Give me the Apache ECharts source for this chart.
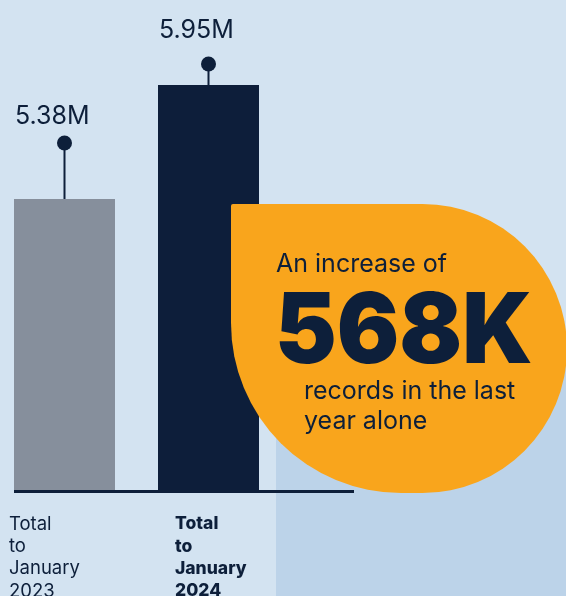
<!DOCTYPE html>
<html>
<head>
<meta charset="utf-8">
<script src="https://cdn.jsdelivr.net/npm/echarts@6/dist/echarts.min.js"></script>
<style>
html,body{margin:0;padding:0;background:#d3e3f1;}
#c{width:566px;height:596px;}
</style>
</head>
<body>
<div id="c"></div>
<script>
// ---- data ----
const categories = ['Total to January 2023', 'Total to January 2024'];
const recordsMillions = [5.38, 5.95];
const valueLabels = ['5.38M', '5.95M'];
const increaseLabel = '568K';
const calloutLines = ['An increase of', 'records in the last', 'year alone'];

// ---- styles ----
const NAVY = '#0d1f3a';
const barColors = ['#868f9c', '#0d1e3a'];
const stemLength = [56, 21];
const labelRise = [82.5, 55];
const labelWeights = [400, 800];
const labelSizes = [18.5, 17.5];
const FONT = 'Inter, "Noto Sans", sans-serif';

const chart = echarts.init(document.getElementById('c'), null, {renderer: 'canvas'});

const option = {
  backgroundColor: '#d3e3f1',
  animation: false,
  grid: [
    {left: -7.5, right: 285.5, top: 0, bottom: 106, outerBoundsMode: 'none', containLabel: false},
    {left: 9, right: 391, top: 0, bottom: 106, outerBoundsMode: 'none', containLabel: false}
  ],
  xAxis: [
    {type: 'category', gridIndex: 0, data: categories, boundaryGap: true, show: false},
    {
      type: 'category', gridIndex: 1, boundaryGap: false,
      data: categories.map((c, i) => ({value: c, textStyle: {fontWeight: labelWeights[i], fontSize: labelSizes[i], align: 'left'}})),
      axisLine: {show: false}, axisTick: {show: false},
      axisLabel: {
        align: 'left', verticalAlign: 'top', margin: 23,
        fontFamily: FONT, fontSize: 18.5, lineHeight: 22.3, color: NAVY,
        formatter: v => v.split(' ').join('\n')
      }
    }
  ],
  yAxis: [
    {type: 'value', gridIndex: 0, min: 3.925, max: 6.375, show: false, splitLine: {show: false}},
    {type: 'value', gridIndex: 1, show: false, splitLine: {show: false}}
  ],
  series: [
    {
      type: 'bar', xAxisIndex: 0, yAxisIndex: 0, barWidth: 101, clip: true,
      data: recordsMillions.map((v, i) => ({value: v, itemStyle: {color: barColors[i]}})),
      z: 2
    },
    {
      type: 'custom', xAxisIndex: 0, yAxisIndex: 0, clip: false, z: 3,
      data: recordsMillions.map((v, i) => [i, v]),
      renderItem: function (params, api) {
        const i = params.dataIndex;
        const p = api.coord([api.value(0), api.value(1)]);
        const dotY = p[1] - stemLength[i];
        return {
          type: 'group',
          children: [
            {type: 'line', shape: {x1: p[0], y1: p[1], x2: p[0], y2: dotY}, style: {stroke: NAVY, lineWidth: 2}},
            {type: 'circle', shape: {cx: p[0], cy: dotY, r: 7.5}, style: {fill: NAVY}},
            {type: 'text', style: {
              text: valueLabels[i], x: p[0] - 49.5, y: p[1] - labelRise[i],
              fill: NAVY, font: '400 25px ' + FONT, textAlign: 'left', textVerticalAlign: 'middle'
            }}
          ]
        };
      }
    }
  ],
  graphic: [
    {type: 'rect', z: -10, silent: true, shape: {x: 276, y: 350, width: 290, height: 246}, style: {fill: '#bcd3e9'}},
    {type: 'rect', z: 50, silent: true, shape: {x: 14, y: 490, width: 340, height: 3}, style: {fill: NAVY}},
    {type: 'rect', z: 100, silent: true, shape: {x: 231, y: 204, width: 336, height: 289, r: [2, 145, 145, 170]}, style: {fill: '#f9a51c'}},
    {type: 'text', z: 101, silent: true, style: {text: calloutLines[0], x: 276, y: 264, fill: NAVY, font: '400 25px ' + FONT, textVerticalAlign: 'middle'}},
    {type: 'text', z: 101, silent: true, x: 275, y: 334, scaleX: 0.946, style: {text: increaseLabel, x: 0, y: 0, fill: NAVY, font: '900 98px ' + FONT, textVerticalAlign: 'middle'}},
    {type: 'text', z: 101, silent: true, style: {text: calloutLines[1], x: 304, y: 391, fill: NAVY, font: '400 25px ' + FONT, textVerticalAlign: 'middle'}},
    {type: 'text', z: 101, silent: true, style: {text: calloutLines[2], x: 304, y: 421, fill: NAVY, font: '400 25px ' + FONT, textVerticalAlign: 'middle'}}
  ]
};
chart.setOption(option);
</script>
</body>
</html>
